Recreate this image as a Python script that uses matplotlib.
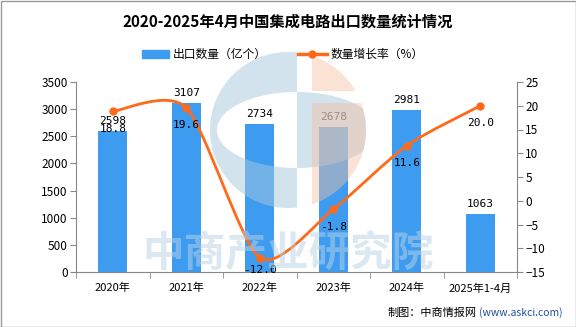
import numpy as np
import matplotlib
matplotlib.use('Agg')
import matplotlib.pyplot as plt
from matplotlib.path import Path
from matplotlib.patches import PathPatch, Circle, Rectangle

plt.rcParams['font.family'] = ['Noto Sans CJK SC', 'DejaVu Sans']

# 数据
anos = ['2020年', '2021年', '2022年', '2023年', '2024年', '2025年1-4月']
quantidade = [2598, 3107, 2734, 2678, 2981, 1063]
crescimento = [18.8, 19.6, -12.0, -1.8, 11.6, 20.0]

cor_barra = '#3D9CF0'
cor_linha = '#FF6A1A'

W, H = 576, 327
fig = plt.figure(figsize=(W / 100, H / 100), dpi=100)
fig.patch.set_facecolor('white')

# area do grafico (pixels -> fracao)
esq, dir_, topo, base = 76, 517, 82, 272
ax = fig.add_axes([esq / W, 1 - base / H, (dir_ - esq) / W, (base - topo) / H])
ax2 = ax.twinx()

x = np.arange(len(anos))
ax.bar(x, quantidade, width=0.39, color=cor_barra, zorder=2)
ax.set_xlim(-0.5, len(anos) - 0.5)
ax.set_ylim(0, 3500)
ax.set_yticks(range(0, 3501, 500))
ax.set_xticks(x)
ax.set_xticklabels(anos, fontsize=8)
ax.set_xticks(np.arange(-0.5, len(anos)), minor=True)
ax.tick_params(axis='x', which='major', length=0, pad=8)
ax.tick_params(axis='x', which='minor', length=4, color='#888888')
ax.tick_params(axis='y', labelsize=8.5, length=4, color='#888888', pad=2)

for xi, v in zip(x, quantidade):
    ax.text(xi, v + 90, f'{v}', ha='center', va='bottom', fontsize=8,
            family='DejaVu Sans Mono', zorder=5)

# curva suave (Bezier) sobre os pontos
k = 1 / 8
pts = np.column_stack([x, crescimento]).astype(float)
verts = [tuple(pts[0])]
codes = [Path.MOVETO]
for i in range(len(pts) - 1):
    p0 = pts[i - 1] if i > 0 else pts[i]
    p1, p2 = pts[i], pts[i + 1]
    p3 = pts[i + 2] if i + 2 < len(pts) else pts[i + 1]
    c1 = p1 + (p2 - p0) * k
    c2 = p2 - (p3 - p1) * k
    verts += [tuple(c1), tuple(c2), tuple(p2)]
    codes += [Path.CURVE4] * 3
ax2.add_patch(PathPatch(Path(verts, codes), fill=False, edgecolor=cor_linha,
                        lw=2.0, zorder=4))
ax2.plot(x, crescimento, 'o', color=cor_linha, markersize=5, zorder=5)
ax2.set_ylim(-15, 25)
ax2.set_yticks(range(-15, 26, 5))
ax2.tick_params(axis='y', labelsize=8.5, length=4, color='#888888', pad=2)

for xi, v in zip(x, crescimento):
    ax2.text(xi, max(v - 2.6, -13.6), f'{v:.1f}', ha='center', va='top', fontsize=8,
             family='DejaVu Sans Mono', zorder=6)

for a in (ax, ax2):
    a.spines['top'].set_visible(False)
    for s in ('left', 'right', 'bottom'):
        a.spines[s].set_color('#888888')
ax.spines['right'].set_visible(False)
ax2.spines['left'].set_visible(False)
ax2.spines['bottom'].set_visible(False)
ax.set_zorder(1)
ax2.set_zorder(2)

# titulo e legenda
fig.text(0.5, 1 - 22 / H, '2020-2025年4月中国集成电路出口数量统计情况',
         ha='center', va='center', fontsize=11, fontweight='bold')

ov = fig.add_axes([0, 0, 1, 1], zorder=10)
ov.set_xlim(0, W)
ov.set_ylim(H, 0)
ov.axis('off')
ov.patch.set_alpha(0)

ov.add_patch(Rectangle((142, 50), 27, 8, color=cor_barra))
ov.text(173, 54, '出口数量（亿个）', va='center', fontsize=8.5)
ov.plot([298, 327], [54, 54], color=cor_linha, lw=2.5)
ov.plot([312], [54], 'o', color=cor_linha, markersize=5)
ov.text(331, 54, '数量增长率（%）', va='center', fontsize=8.5)

# marca d'agua (logo)
cx, cy, r = 288, 130, 78
circulo = Circle((cx, cy), r, transform=ov.transData)
t = np.linspace(0, 2 * np.pi, 120)
rect = [(cx - r, cy - r), (297, cy - r), (297, cy + r), (cx - r, cy + r), (cx - r, cy - r)]
elip = list(zip(297 + 80 * np.cos(t), cy - 38 * np.sin(t)))
caminho = Path(rect + elip,
               [Path.MOVETO] + [Path.LINETO] * 3 + [Path.CLOSEPOLY]
               + [Path.MOVETO] + [Path.LINETO] * (len(elip) - 2) + [Path.CLOSEPOLY])
azul = PathPatch(caminho, facecolor='#A8C9DE', edgecolor='none', alpha=0.5)
ov.add_patch(azul)
azul.set_clip_path(circulo)
for y0, y1 in ((cy - r, 91), (103, cy + r)):
    lar = Rectangle((312, y0), cx + r - 312, y1 - y0, facecolor='#F5BFA3',
                    edgecolor='none', alpha=0.45)
    ov.add_patch(lar)
    lar.set_clip_path(circulo)
ov.text(288, 255, '中商产业研究院', ha='center', va='center', fontsize=30,
        fontweight='bold', color='#B9D3E6', alpha=0.5)

# rodape
ov.text(388, 313, '制图：中商情报网', va='center', fontsize=8)
ov.text(479, 313, '(www.askci.com)', va='center', fontsize=7.5, color='#1F4E9A')

# moldura
ov.add_patch(Rectangle((0.5, 0.5), W - 1, H - 1, fill=False, edgecolor='#999999', lw=1))

fig.savefig('out.png', dpi=100)
